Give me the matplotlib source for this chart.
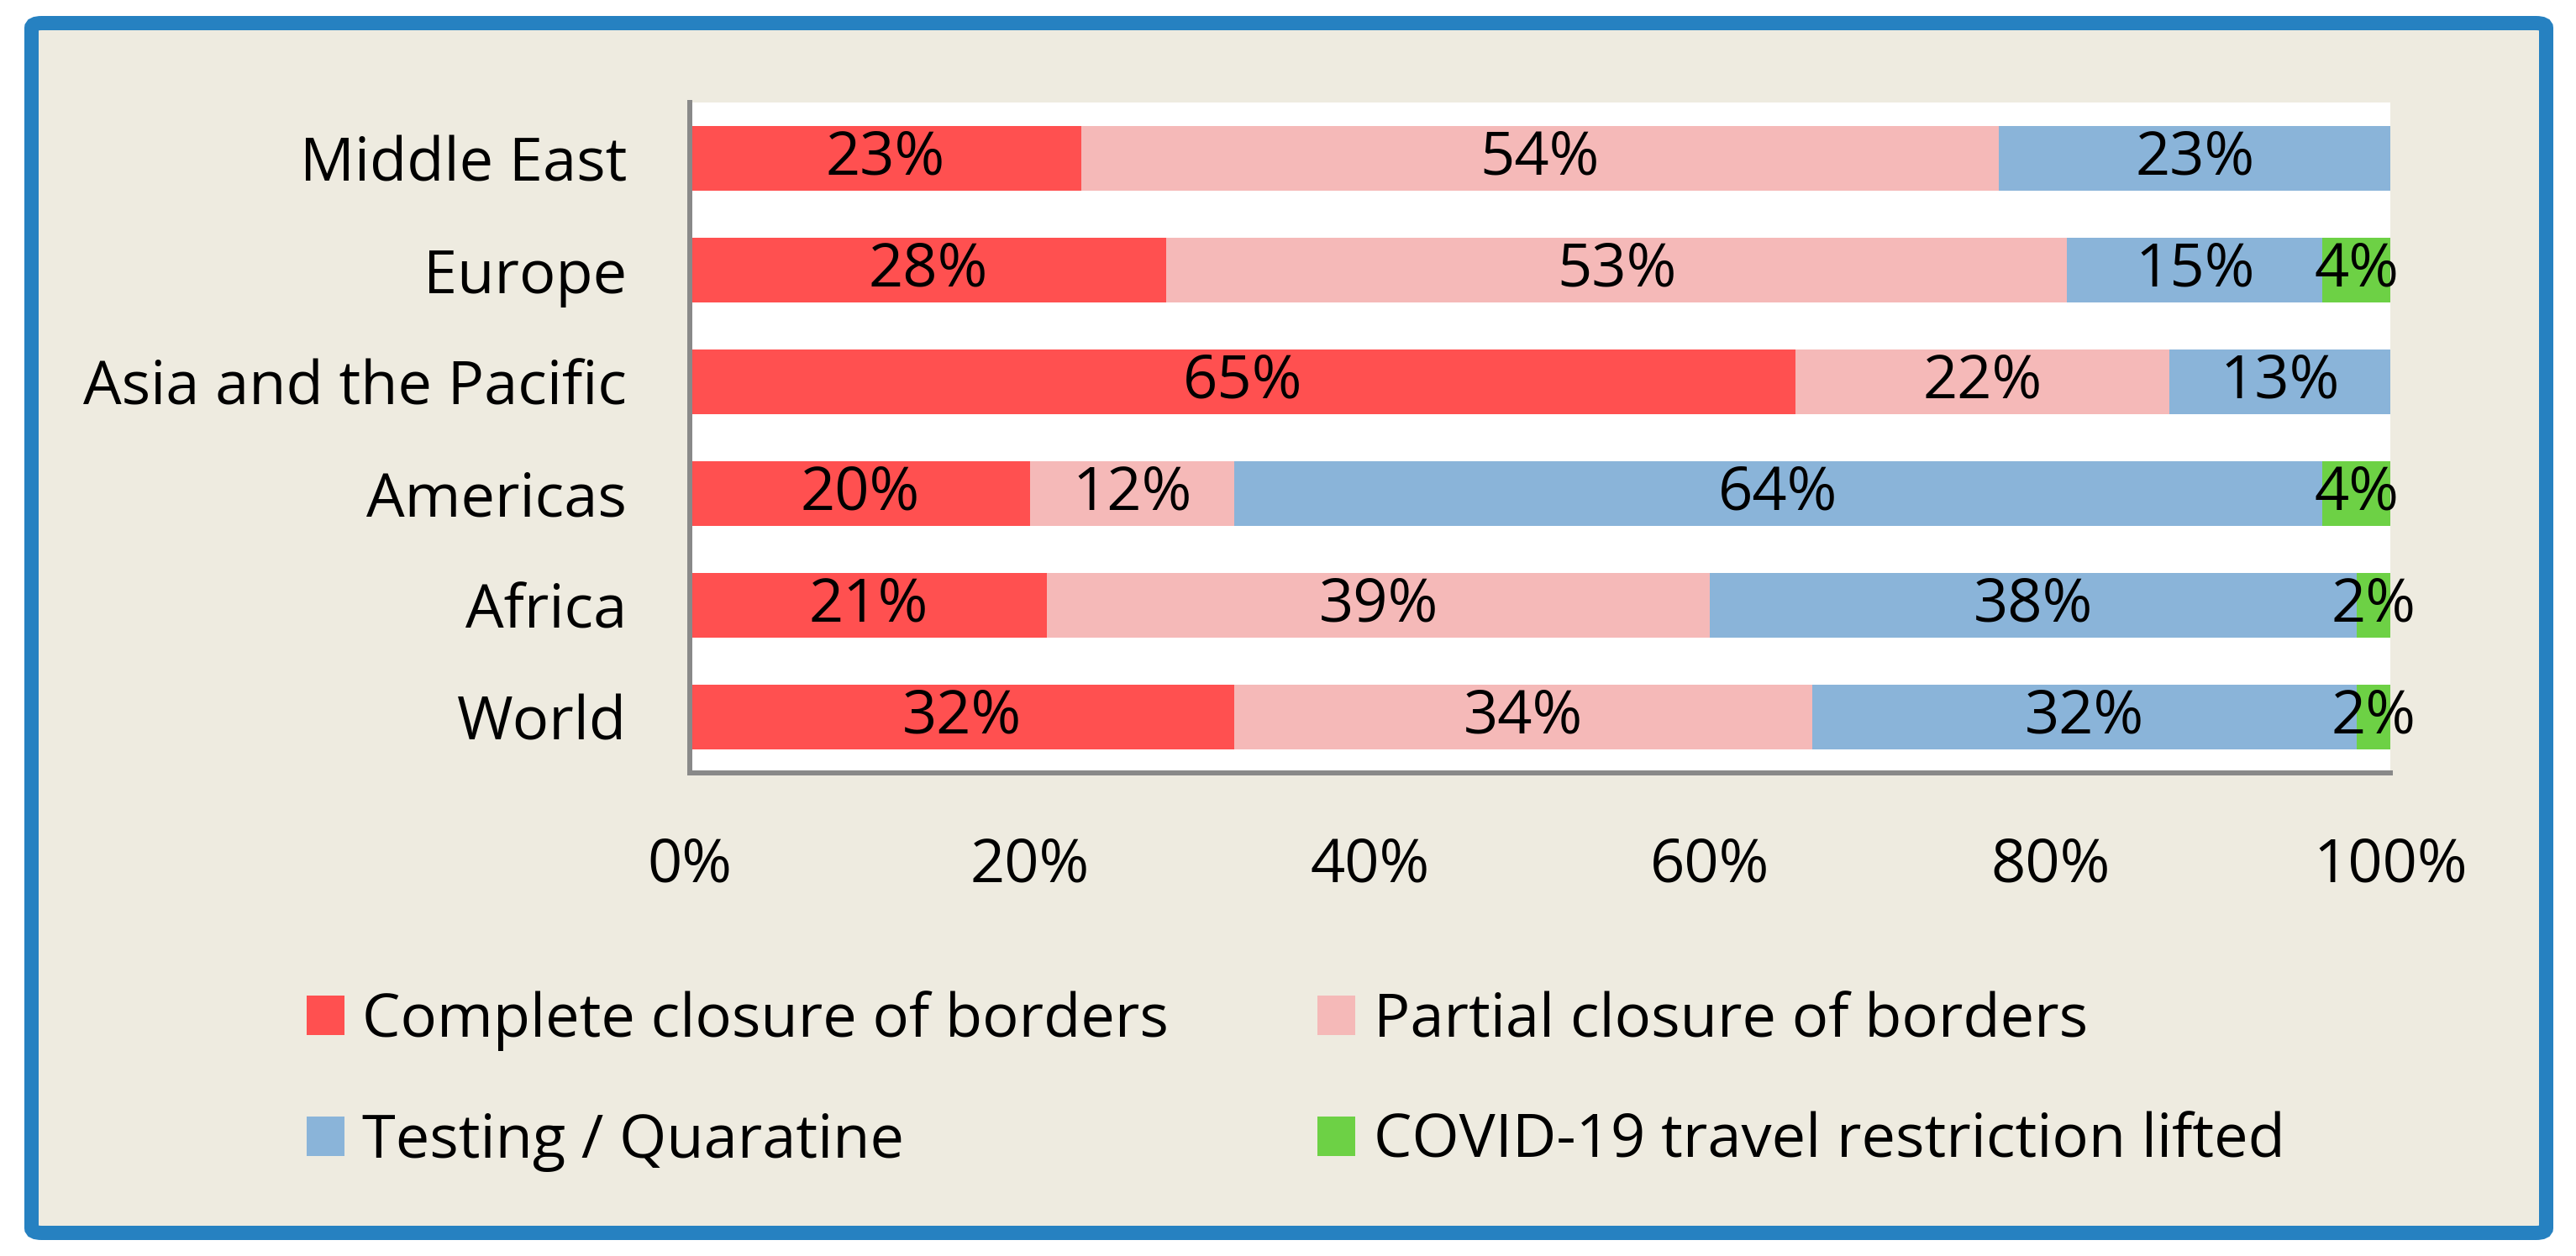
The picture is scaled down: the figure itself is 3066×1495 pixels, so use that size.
import matplotlib
matplotlib.use("Agg")
import matplotlib.pyplot as plt
from matplotlib.patches import FancyBboxPatch
from matplotlib.ticker import FuncFormatter

# data (percent of destinations), bottom to top
regions = ["World", "Africa", "Americas", "Asia and the Pacific", "Europe", "Middle East"]
complete_closure = [32, 21, 20, 65, 28, 23]
partial_closure = [34, 39, 12, 22, 53, 54]
testing_quarantine = [32, 38, 64, 13, 15, 23]
restriction_lifted = [2, 2, 4, 0, 4, 0]

series_names = ["Complete closure of borders", "Partial closure of borders",
                "Testing / Quaratine", "COVID-19 travel restriction lifted"]
series_colors = ["#FF5050", "#F5B9B8", "#8AB4D9", "#6DD145"]

W, H = 3066, 1495
FS = 26
plt.rcParams['font.family'] = ['Open Sans', 'DejaVu Sans']


def main():
    fig = plt.figure(figsize=(W / 200, H / 200), dpi=200)
    fig.patch.set_facecolor("white")

    # beige panel with blue frame
    lw_px = 17
    frame = FancyBboxPatch((37.5 / W, 27.5 / H), (3030.5 - 37.5) / W, (1467.5 - 27.5) / H,
                           boxstyle="round,pad=0,rounding_size=0.004",
                           transform=fig.transFigure, facecolor="#EEEBE0",
                           edgecolor="#2681C1", linewidth=lw_px * 72 / 200, zorder=0)
    fig.patches.append(frame)

    ax = fig.add_axes([821 / W, 1 - 920 / H, (2845 - 821) / W, (920 - 122) / H])
    ax.set_zorder(2)
    ax.set_facecolor("white")

    all_series = [complete_closure, partial_closure, testing_quarantine, restriction_lifted]
    y = list(range(len(regions)))
    left = [0] * len(regions)
    for vals, name, col in zip(all_series, series_names, series_colors):
        bars = ax.barh(y, vals, left=left, height=0.58, color=col, label=name, zorder=2)
        for b, v in zip(bars, vals):
            if v > 0:
                ax.text(b.get_x() + b.get_width() / 2, b.get_y() + b.get_height() / 2,
                        f"{v}%", ha="center", va="center", fontsize=FS, color="black", zorder=3)
        left = [l + v for l, v in zip(left, vals)]

    ax.set_xlim(0, 100)
    ax.set_ylim(-0.5, len(regions) - 0.5)
    ax.set_xticks(range(0, 101, 20))
    ax.xaxis.set_major_formatter(FuncFormatter(lambda v, p: f"{int(v)}%"))
    ax.set_yticks(y)
    ax.set_yticklabels(regions)
    ax.tick_params(axis="both", length=0, labelsize=FS, pad=27)

    for s in ["top", "right"]:
        ax.spines[s].set_visible(False)
    for s in ["left", "bottom"]:
        ax.spines[s].set_color("#898989")
        ax.spines[s].set_linewidth(6 * 72 / 200)
        ax.spines[s].set_zorder(4)

    # legend filled row by row
    handles, labels = ax.get_legend_handles_labels()
    order = [0, 2, 1, 3]
    leg = fig.legend([handles[i] for i in order], [labels[i] for i in order], ncol=2,
                     loc="center", bbox_to_anchor=(0.503, 1 - 1287 / H),
                     frameon=False, fontsize=FS, handlelength=0.62, handleheight=0.62,
                     handletextpad=0.3, columnspacing=2.45, labelspacing=1.0)
    leg.set_zorder(3)

    fig.savefig("out.png", dpi=200, facecolor="white")


if __name__ == "__main__":
    main()
